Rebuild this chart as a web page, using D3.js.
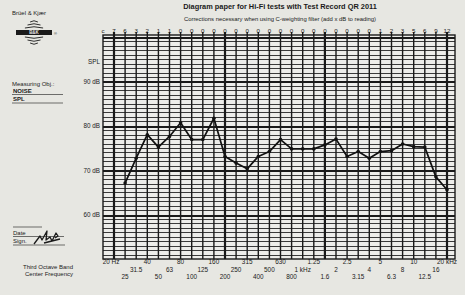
<!DOCTYPE html>
<html><head><meta charset="utf-8">
<script src="https://cdn.jsdelivr.net/npm/d3@7"></script>
<style>
body{margin:0;background:#e7e7e2;}
svg{display:block;font-family:"Liberation Sans",Arial,sans-serif;}
</style>
</head><body>
<svg id="c" width="465" height="295"></svg>
<script>
// ---- data ----
const bands = ["20","25","31.5","40","50","63","80","100","125","160","200","250","315","400","500","630","800","1k","1.25k","1.6k","2k","2.5k","3.15k","4k","5k","6.3k","8k","10k","12.5k","16k","20k"];
const bandLabels = ["20 Hz","25","31.5","40","50","63","80","100","125","160","200","250","315","400","500","630","800","1 kHz","1.25","1.6","2","2.5","3.15","4","5","6.3","8","10","12.5","16","20 kHz"];
const corrections = ["7","6","3","2","1","1","0","0","0","0","0","0","0","0","0","0","0","0","0","0","0","0","0","0","1","2","3","5","6","9","12"];
const splBands = ["25","31.5","40","50","63","80","100","125","160","200","250","315","400","500","630","800","1k","1.25k","1.6k","2k","2.5k","3.15k","4k","5k","6.3k","8k","10k","12.5k","16k","20k"];
const splValues = [67.1,72.7,78.0,75.2,77.6,80.7,76.9,76.9,81.7,73.1,71.6,70.3,73.1,74.2,76.9,74.8,74.8,74.8,75.7,77.0,73.1,74.2,72.7,74.2,74.4,75.9,75.3,75.2,68.5,65.6];
const dbLabels = [60,70,80,90];
const thickBands = ["20","200","1.6k","20k"];

// ---- layout ----
const svg = d3.select("#c");
const frame = {l:103, r:455, t:35, b:259};
const x = d3.scalePoint().domain(bands).range([114, 447]);
const y = d3.scaleLinear().domain([50, 100]).range([259, 37]);
const ink = "#1a1a1a";
const crisp = v => Math.round(v) + 0.5;

// plot background
svg.append("rect").attr("x",frame.l).attr("y",frame.t).attr("width",frame.r-frame.l).attr("height",frame.b-frame.t)
  .attr("fill","#ededea");

// horizontal grid (1 dB)
const hg = svg.append("g");
hg.selectAll("line").data(d3.range(51, 101)).join("line")
  .attr("x1",frame.l).attr("x2",frame.r)
  .attr("y1",d=>crisp(y(d))).attr("y2",d=>crisp(y(d)))
  .attr("stroke", d=> d%10===0 ? ink : "#3a3a3a")
  .attr("stroke-width", d=> d%10===0 ? 2 : 1)
  .attr("shape-rendering","crispEdges");

// vertical grid (third-octave bands)
const vg = svg.append("g");
vg.selectAll("line").data(bands).join("line")
  .attr("x1",d=>x(d)).attr("x2",d=>x(d))
  .attr("y1",frame.t-3).attr("y2",frame.b)
  .attr("stroke", ink)
  .attr("stroke-width", d=> thickBands.includes(d) ? 2.2 : 1.4);

// frame
svg.append("rect").attr("x",frame.l).attr("y",frame.t).attr("width",frame.r-frame.l).attr("height",frame.b-frame.t)
  .attr("fill","none").attr("stroke",ink).attr("stroke-width",1.4);

// correction row
svg.append("text").attr("x",frame.l).attr("y",32.5).attr("font-size",6.2).attr("fill",ink).attr("text-anchor","middle").text("c");
svg.append("g").selectAll("text").data(bands).join("text")
  .attr("x",d=>x(d)).attr("y",32.5).attr("font-size",6.2).attr("fill",ink).attr("text-anchor","middle")
  .text((d,i)=>corrections[i]);

// y labels
svg.append("g").selectAll("text").data(dbLabels).join("text")
  .attr("x",100).attr("y",d=>y(d)+2.5).attr("font-size",6.3).attr("fill",ink).attr("text-anchor","end")
  .text(d=>d+" dB");
svg.append("text").attr("x",100).attr("y",y(94.3)+2).attr("font-size",6.3).attr("fill",ink).attr("text-anchor","end").text("SPL");

// x labels in three rows
const rowY = [264, 279, 272];
svg.append("g").selectAll("text").data(bands).join("text")
  .attr("x",(d,i)=> i===0 ? x(d)-3 : x(d))
  .attr("y",(d,i)=> rowY[i%3])
  .attr("font-size",6.4).attr("fill",ink).attr("text-anchor","middle")
  .text((d,i)=>bandLabels[i]);

// data line
const line = d3.line().x((d,i)=>x(splBands[i])).y(d=>y(d));
svg.append("path").datum(splValues).attr("d",line)
  .attr("fill","none").attr("stroke","#111").attr("stroke-width",1.7).attr("stroke-linejoin","round");
svg.append("g").selectAll("circle").data(splValues).join("circle")
  .attr("cx",(d,i)=>x(splBands[i])).attr("cy",d=>y(d)).attr("r",1.8).attr("fill","#111");

// titles
svg.append("text").attr("x",280).attr("y",9).attr("font-size",7.4).attr("font-weight","bold").attr("fill",ink)
  .attr("text-anchor","middle").text("Diagram paper for Hi-Fi tests with Test Record QR 2011");
svg.append("text").attr("x",280).attr("y",21).attr("font-size",5.9).attr("fill",ink)
  .attr("text-anchor","middle").text("Corrections necessary when using C-weighting filter (add x dB to reading)");

// left side: logo
svg.append("text").attr("x",12).attr("y",15).attr("font-size",6).attr("fill",ink).text("Brüel & Kjær");
const logo = svg.append("g").attr("fill","none").attr("stroke",ink).attr("stroke-width",0.9);
[[22,3],[25,5],[28,7]].forEach(([yy,w])=>{
  logo.append("path").attr("d",`M${34-w*1.3},${yy} Q34,${yy-2.5} ${34+w*1.3},${yy}`);
});
[[37,7],[40,5],[43,3]].forEach(([yy,w])=>{
  logo.append("path").attr("d",`M${34-w*1.3},${yy} Q34,${yy+2.5} ${34+w*1.3},${yy}`);
});
svg.append("rect").attr("x",16).attr("y",30).attr("width",36).attr("height",5).attr("fill",ink);
svg.append("text").attr("x",34).attr("y",34.3).attr("font-size",4.5).attr("font-weight","bold").attr("fill","#e7e7e2")
  .attr("text-anchor","middle").text("B&K");
svg.append("text").attr("x",54).attr("y",35).attr("font-size",4).attr("fill",ink).text("®");

// measuring object
svg.append("text").attr("x",12).attr("y",86).attr("font-size",6).attr("fill",ink).text("Measuring Obj.:");
svg.append("text").attr("x",13).attr("y",92.5).attr("font-size",6).attr("font-weight","bold").attr("fill",ink).text("NOISE");
svg.append("line").attr("x1",12).attr("x2",63).attr("y1",94.5).attr("y2",94.5).attr("stroke",ink).attr("stroke-width",0.6);
svg.append("text").attr("x",13).attr("y",101).attr("font-size",6).attr("font-weight","bold").attr("fill",ink).text("SPL");
svg.append("line").attr("x1",12).attr("x2",63).attr("y1",103).attr("y2",103).attr("stroke",ink).attr("stroke-width",0.6);

// date / sign
svg.append("line").attr("x1",13).attr("x2",42).attr("y1",227).attr("y2",227).attr("stroke",ink).attr("stroke-width",0.6);
svg.append("text").attr("x",13).attr("y",235).attr("font-size",6).attr("fill",ink).text("Date");
svg.append("line").attr("x1",13).attr("x2",64).attr("y1",236.5).attr("y2",236.5).attr("stroke",ink).attr("stroke-width",0.6);
svg.append("text").attr("x",13).attr("y",243).attr("font-size",6).attr("fill",ink).text("Sign.");
svg.append("line").attr("x1",13).attr("x2",65).attr("y1",245).attr("y2",245).attr("stroke",ink).attr("stroke-width",0.6);
svg.append("path").attr("d","M34,244 L40,236 L42,240 L47,231 L46,240 L50,237 L52,241 L56,233 L58,236 L55,238 M44,243 L60,239")
  .attr("fill","none").attr("stroke",ink).attr("stroke-width",1.3).attr("stroke-linejoin","round");

// footer text
svg.append("text").attr("x",48).attr("y",269).attr("font-size",6).attr("fill",ink).attr("text-anchor","middle").text("Third Octave Band");
svg.append("text").attr("x",49).attr("y",276).attr("font-size",6).attr("fill",ink).attr("text-anchor","middle").text("Center Frequency");
</script>
</body></html>
